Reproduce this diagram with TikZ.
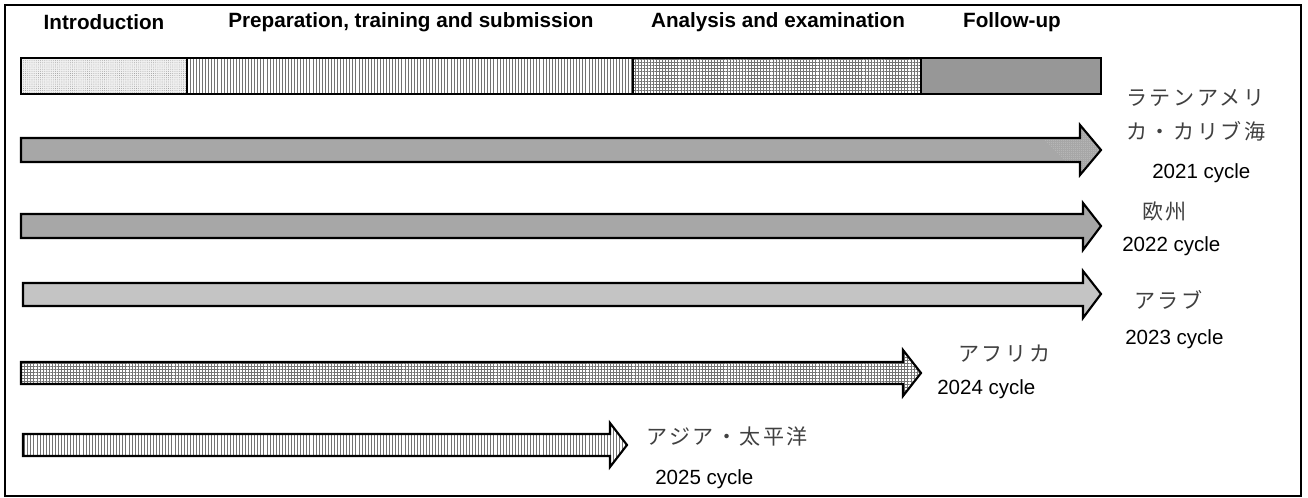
\documentclass[tikz,border=0pt]{standalone}
\usepackage{fontspec}
\setmainfont{Liberation Sans}
\newfontfamily\jpfont[LetterSpace=12]{Noto Sans CJK JP}
\usepackage{tikz}
\usetikzlibrary{patterns.meta}

\tikzset{
  outline/.style={draw=black, line width=1.6pt, line join=miter},
  dotsfill/.style={preaction={fill=black!6},
    pattern={Dots[distance=1.6pt, radius=0.3pt]}, pattern color=black!45},
  vlinesfill/.style={preaction={fill=white},
    pattern={Lines[angle=90, distance=2.3pt, line width=0.4pt]}, pattern color=black!55},
  gridfill/.style={preaction={fill=white},
    pattern={Hatch[angle=0, distance=2.3pt, line width=0.4pt]}, pattern color=black!55},
  darkfill/.style={preaction={fill=black!30},
    pattern={Dots[distance=1.5pt, radius=0.45pt]}, pattern color=black!75},
  midfill/.style={preaction={fill=black!25},
    pattern={Dots[distance=1.5pt, radius=0.4pt]}, pattern color=black!65},
  lightfill/.style={preaction={fill=black!15},
    pattern={Dots[distance=1.5pt, radius=0.4pt]}, pattern color=black!50},
  phase/.style={font=\bfseries\fontsize{15.5}{18}\selectfont, inner sep=0pt},
  cycle/.style={font=\fontsize{15.4}{18}\selectfont, anchor=west, inner sep=0pt},
  region/.style={font=\jpfont\fontsize{15.8}{18}\selectfont, text=black!75,
    anchor=west, inner sep=0pt}
}

\begin{document}
\begin{tikzpicture}[x=0.75pt, y=-0.75pt]

  \useasboundingbox (0,0) rectangle (1308,498);
  \draw[line width=1.5pt] (5,5) rectangle (1301,496);

  % phase headings
  \node[phase] (intro) at (104,22) {Introduction};
  \node[phase] (prep) at (411,22) {Preparation, training and submission};
  \node[phase] (anal) at (778,22) {Analysis and examination};
  \node[phase] (follow) at (1012,22) {Follow-up};

  % phase bar
  \path[outline, dotsfill] (21,58) rectangle (187,94);
  \path[outline, vlinesfill] (187,58) rectangle (633,94);
  \path[outline, gridfill] (633,58) rectangle (921,94);
  \path[outline, darkfill] (921,58) rectangle (1101,94);

  % cycles
  \path[outline, midfill] (21,138) -- (1080,138) -- (1080,125) -- (1101,150)
    -- (1080,175) -- (1080,162) -- (21,162) -- cycle;
  \path[outline, midfill] (21,214) -- (1083,214) -- (1083,203) -- (1101,226)
    -- (1083,250) -- (1083,238) -- (21,238) -- cycle;
  \path[outline, lightfill] (23,283) -- (1083,283) -- (1083,271) -- (1101,294)
    -- (1083,318) -- (1083,306) -- (23,306) -- cycle;
  \path[outline, gridfill] (21,362) -- (903,362) -- (903,350) -- (921,373)
    -- (903,396) -- (903,384) -- (21,384) -- cycle;
  \path[outline, vlinesfill] (23,434) -- (610,434) -- (610,423) -- (627,445)
    -- (610,467) -- (610,456) -- (23,456) -- cycle;

  % labels
  \node[region] (lac1) at (1126,98) {ラテンアメリ};
  \node[region] (lac2) at (1126,131) {カ・カリブ海};
  \node[cycle] (c2021) at (1152,173) {2021 cycle};
  \node[region] (eu) at (1142,211) {欧州};
  \node[cycle] (c2022) at (1122,246) {2022 cycle};
  \node[region] (arab) at (1134,300) {アラブ};
  \node[cycle] (c2023) at (1125,339) {2023 cycle};
  \node[region] (afr) at (958,354) {アフリカ};
  \node[cycle] (c2024) at (937,389) {2024 cycle};
  \node[region] (ap) at (646,437) {アジア・太平洋};
  \node[cycle] (c2025) at (655,479) {2025 cycle};

\end{tikzpicture}
\end{document}
